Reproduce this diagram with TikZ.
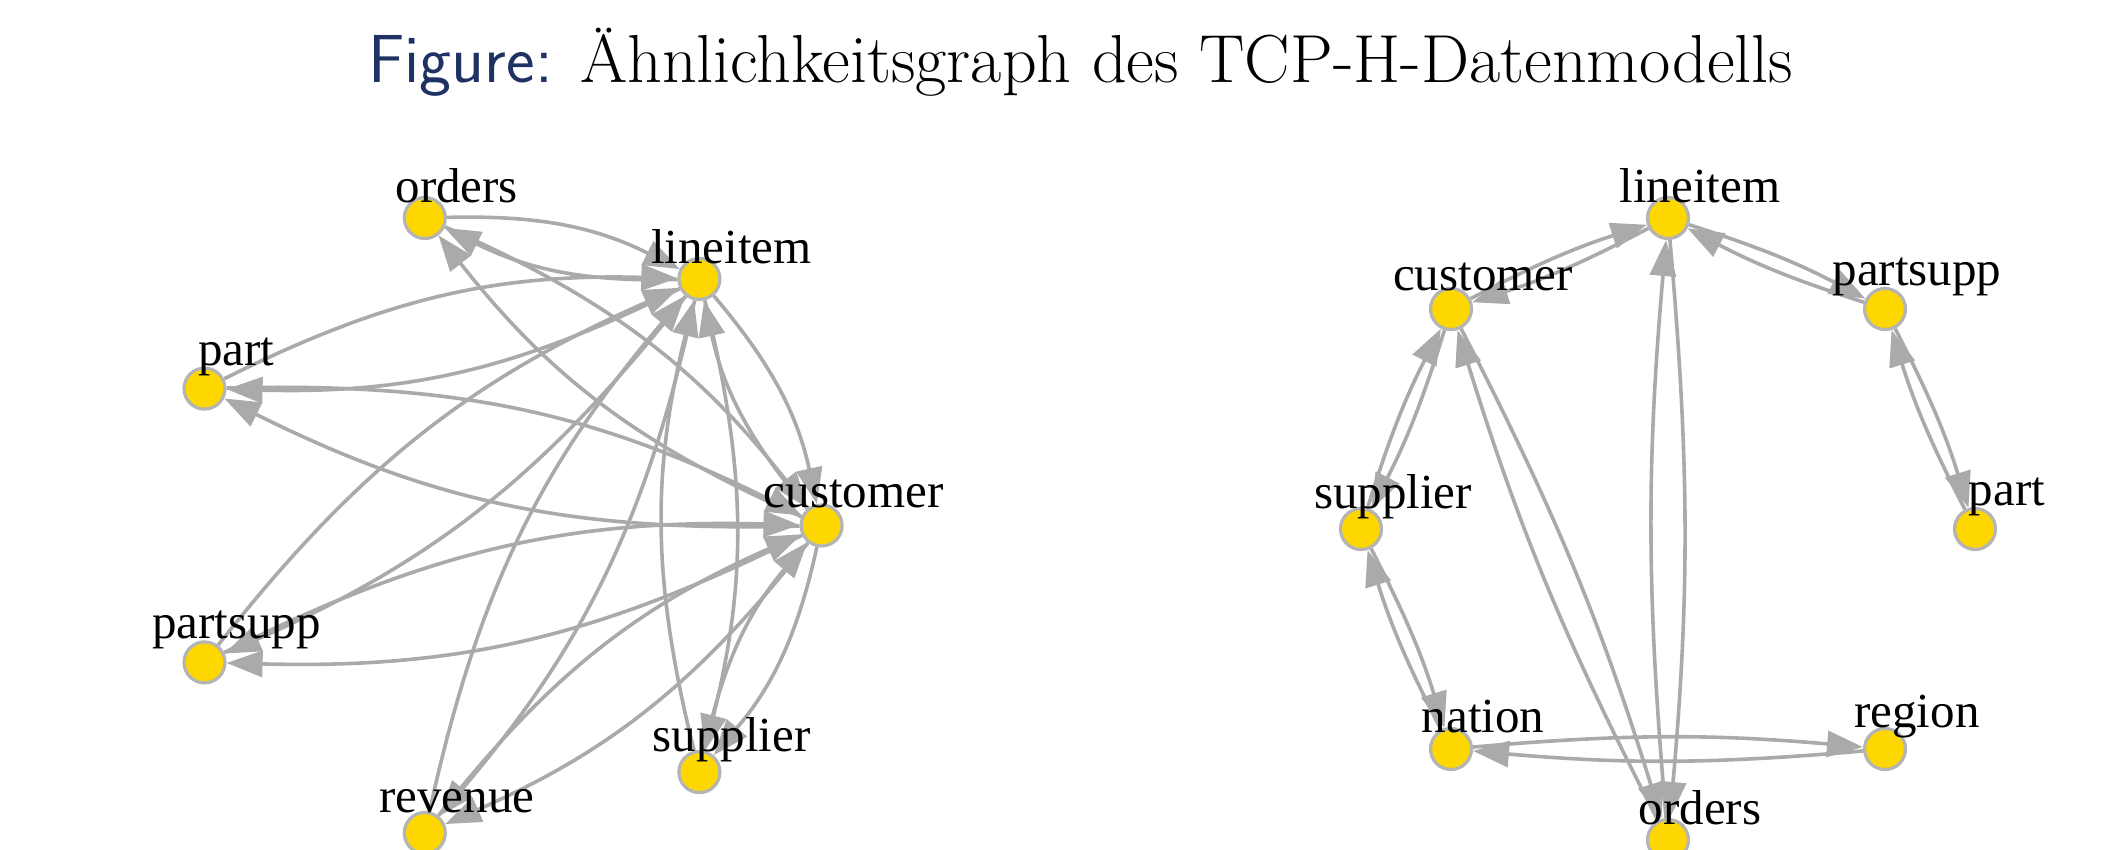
\documentclass[tikz,border=0pt]{standalone}
\usepackage{fontspec}
\newfontfamily\labfont{Liberation Serif}
\usetikzlibrary{arrows.meta}
\definecolor{vgold}{HTML}{FFD700}
\definecolor{framegray}{HTML}{B4B4B4}
\definecolor{edgegray}{HTML}{AAAAAA}
\definecolor{navyblue}{RGB}{30,50,100}
\pgfdeclarelayer{edges}
\pgfsetlayers{edges,main}
\begin{document}
\begin{tikzpicture}[x=0.5pt,y=-0.5pt,
  vtx/.style={circle, fill=vgold, draw=framegray, line width=1.6pt, minimum size=20.5pt, inner sep=0pt},
  lab/.style={font=\labfont\fontsize{24.5pt}{28pt}\selectfont, inner sep=0pt, text=black},
  arc/.style={draw=edgegray, line width=1.8pt, -{Triangle[length=18pt,width=13pt]}},
  lbend/.style={arc, bend left=14},
  rbend/.style={arc, bend left=5}]
\useasboundingbox (0,0) rectangle (2101,850);

% title
\node[anchor=base west, inner sep=0pt] (title) at (368,83)
  {\fontsize{34pt}{40pt}\selectfont{\sffamily\color{navyblue}Figure:} Ähnlichkeitsgraph des TCP-H-Datenmodells};

% left graph vertices
\node[vtx] (lc)  at (821.6,525.5) {};
\node[vtx] (ll)  at (699.4,278.9) {};
\node[vtx] (lo)  at (424.8,218.0) {};
\node[vtx] (lp)  at (204.5,388.6) {};
\node[vtx] (lps) at (204.5,662.4) {};
\node[vtx] (lr)  at (424.8,833.0) {};
\node[vtx] (ls)  at (699.4,772.1) {};

% right graph vertices
\node[vtx] (rl)   at (1668,218) {};
\node[vtx] (rc)   at (1451,309) {};
\node[vtx] (rps)  at (1885,309) {};
\node[vtx] (rs)   at (1361,529) {};
\node[vtx] (rp)   at (1975,529) {};
\node[vtx] (rn)   at (1451,749) {};
\node[vtx] (rreg) at (1885,749) {};
\node[vtx] (ro)   at (1668,840) {};

% labels
\path (lc)  ++(32,-32) node[lab] (lct)  {customer};
\path (ll)  ++(32,-32) node[lab] (llt)  {lineitem};
\path (lo)  ++(32,-32) node[lab] (lot)  {orders};
\path (lp)  ++(32,-32) node[lab] (lpt)  {part};
\path (lps) ++(32,-32) node[lab] (lpst) {partsupp};
\path (lr)  ++(32,-32) node[lab] (lrt)  {revenue};
\path (ls)  ++(32,-32) node[lab] (lst)  {supplier};

\path (rl)   ++(32,-32) node[lab] (rlt)   {lineitem};
\path (rc)   ++(32,-32) node[lab] (rct)   {customer};
\path (rps)  ++(32,-32) node[lab] (rpst)  {partsupp};
\path (rs)   ++(32,-32) node[lab] (rst)   {supplier};
\path (rp)   ++(32,-32) node[lab] (rpt)   {part};
\path (rn)   ++(32,-32) node[lab] (rnt)   {nation};
\path (rreg) ++(32,-32) node[lab] (rregt) {region};
\path (ro)   ++(32,-32) node[lab] (rot)   {orders};

\begin{pgfonlayer}{edges}
% left graph edges
\foreach \v in {lo,lp,lps,lr,ls}{
  \draw[lbend] (\v) to (ll);
  \draw[lbend] (ll) to (\v);
  \draw[lbend] (\v) to (lc);
  \draw[lbend] (lc) to (\v);
}
\draw[lbend] (ll) to (lc);
\draw[lbend] (lc) to (ll);

% right graph edges
\draw[rbend] (rc) to (rl);   \draw[rbend] (rl) to (rc);
\draw[rbend] (rps) to (rl);  \draw[rbend] (rl) to (rps);
\draw[rbend] (rps) to (rp);  \draw[rbend] (rp) to (rps);
\draw[rbend] (rc) to (rs);   \draw[rbend] (rs) to (rc);
\draw[rbend] (rs) to (rn);   \draw[rbend] (rn) to (rs);
\draw[rbend] (rn) to (rreg); \draw[rbend] (rreg) to (rn);
\draw[rbend] (rc) to (ro);   \draw[rbend] (ro) to (rc);
\draw[rbend] (rl) to (ro);   \draw[rbend] (ro) to (rl);
\end{pgfonlayer}
\end{tikzpicture}
\end{document}
